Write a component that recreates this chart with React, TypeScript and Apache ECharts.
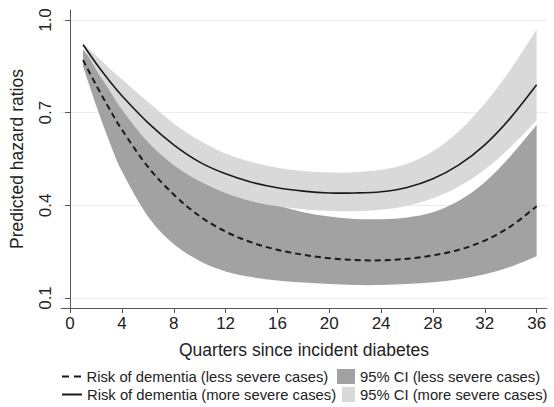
import React, { useEffect, useRef } from "react";
import * as echarts from "echarts";

// Quarters since incident diabetes (x positions of estimates)
const quarters = [1, 2, 3, 4, 6, 8, 10, 12, 14, 16, 18, 20, 22, 24, 26, 28, 30, 32, 34, 36];

// More severe cases: estimate and 95% CI
const moreSevere = [0.92, 0.86, 0.805, 0.755, 0.668, 0.596, 0.54, 0.502, 0.475, 0.457, 0.446, 0.44, 0.44, 0.444, 0.458, 0.486, 0.531, 0.596, 0.684, 0.79];
const moreSevereUpper = [0.925, 0.885, 0.845, 0.808, 0.735, 0.665, 0.61, 0.568, 0.54, 0.522, 0.511, 0.506, 0.507, 0.515, 0.535, 0.575, 0.64, 0.73, 0.84, 0.97];
const moreSevereLower = [0.915, 0.84, 0.775, 0.71, 0.605, 0.53, 0.478, 0.44, 0.413, 0.397, 0.387, 0.382, 0.381, 0.386, 0.399, 0.423, 0.461, 0.516, 0.589, 0.675];

// Less severe cases: estimate and 95% CI
const lessSevere = [0.87, 0.79, 0.715, 0.645, 0.525, 0.435, 0.365, 0.315, 0.28, 0.256, 0.24, 0.229, 0.223, 0.222, 0.227, 0.238, 0.256, 0.286, 0.332, 0.397];
const lessSevereUpper = [0.905, 0.85, 0.79, 0.735, 0.645, 0.58, 0.52, 0.47, 0.43, 0.40, 0.378, 0.364, 0.356, 0.355, 0.361, 0.378, 0.415, 0.475, 0.56, 0.66];
const lessSevereLower = [0.85, 0.725, 0.61, 0.51, 0.365, 0.275, 0.22, 0.186, 0.168, 0.157, 0.15, 0.145, 0.142, 0.142, 0.145, 0.151, 0.161, 0.177, 0.201, 0.235];

// Axis ticks
const xTicks = [0, 4, 8, 12, 16, 20, 24, 28, 32, 36];
const yTicks = [0.1, 0.4, 0.7, 1.0];

const NAME_LESS = "Risk of dementia (less severe cases)";
const NAME_MORE = "Risk of dementia (more severe cases)";
const NAME_CI_LESS = "95% CI (less severe cases)";
const NAME_CI_MORE = "95% CI (more severe cases)";

const DARK = "#a2a2a2";
const LIGHT = "#d9d9d9";
const INK = "#1a1a1a";
const FONT = "Liberation Sans, Arial, sans-serif";

type Pt = number[];
function curve(pts: Pt[]): string {
  let d = "";
  for (let i = 0; i < pts.length - 1; i++) {
    const p0 = pts[i - 1] || pts[i];
    const p1 = pts[i];
    const p2 = pts[i + 1];
    const p3 = pts[i + 2] || p2;
    const c1x = p1[0] + (p2[0] - p0[0]) / 6;
    const c1y = p1[1] + (p2[1] - p0[1]) / 6;
    const c2x = p2[0] - (p3[0] - p1[0]) / 6;
    const c2y = p2[1] - (p3[1] - p1[1]) / 6;
    d += ` C${c1x},${c1y} ${c2x},${c2y} ${p2[0]},${p2[1]}`;
  }
  return d;
}

function bandSeries(name: string, lo: number[], hi: number[], color: string) {
  return {
    name,
    type: "custom",
    silent: true,
    itemStyle: { color },
    encode: { x: 0, y: [1, 2] },
    data: quarters.map((q, i) => [q, lo[i], hi[i]]),
    renderItem: (params: any, api: any) => {
      if (params.dataIndex !== 0) return null;
      const up = quarters.map((q, i) => api.coord([q, hi[i]]));
      const dn = quarters.map((q, i) => api.coord([q, lo[i]])).reverse();
      const d =
        `M${up[0][0]},${up[0][1]}` + curve(up) + ` L${dn[0][0]},${dn[0][1]}` + curve(dn) + " Z";
      return { type: "path", shape: { pathData: d }, style: { fill: color, stroke: "none" } };
    },
  };
}

function curveSeries(name: string, ys: number[], lineDash: number[] | null, width: number) {
  return {
    name,
    type: "custom",
    silent: true,
    itemStyle: { color: INK },
    encode: { x: 0, y: 1 },
    data: quarters.map((q, i) => [q, ys[i]]),
    renderItem: (params: any, api: any) => {
      if (params.dataIndex !== 0) return null;
      const pts = quarters.map((q, i) => api.coord([q, ys[i]]));
      const d = `M${pts[0][0]},${pts[0][1]}` + curve(pts);
      const style: any = { fill: "none", stroke: INK, lineWidth: width };
      if (lineDash) style.lineDash = lineDash;
      return { type: "path", shape: { pathData: d }, style };
    },
  };
}

export default function App() {
  const ref = useRef<HTMLDivElement>(null);
  useEffect(() => {
    if (!ref.current) return;
    const chart = echarts.init(ref.current, undefined, { renderer: "svg" });
    const legendText = { fontSize: 14.8, color: "#222", fontFamily: FONT };
    chart.setOption({
      animation: false,
      textStyle: { fontFamily: FONT },
      grid: { left: 60, right: 7, top: 10, bottom: 99, containLabel: false },
      xAxis: {
        type: "value",
        min: -0.7,
        max: 36.8,
        name: "Quarters since incident diabetes",
        nameLocation: "middle",
        nameGap: 33,
        nameTextStyle: { fontSize: 17.5, color: "#222", fontFamily: FONT },
        axisLine: { show: true, lineStyle: { color: "#555", width: 1 } },
        axisTick: { show: true, length: 5, lineStyle: { color: "#555" }, customValues: xTicks },
        axisLabel: { fontSize: 17, color: "#222", margin: 7, customValues: xTicks, fontFamily: FONT },
        splitLine: { show: false },
      },
      yAxis: {
        type: "value",
        min: 0.0676,
        max: 1.0324,
        name: "Predicted hazard ratios",
        nameLocation: "middle",
        nameGap: 35,
        nameTextStyle: { fontSize: 17.5, color: "#222", fontFamily: FONT },
        axisLine: { show: true, lineStyle: { color: "#555", width: 1 } },
        axisTick: { show: true, length: 5, lineStyle: { color: "#555" }, customValues: yTicks },
        axisLabel: {
          fontSize: 17,
          color: "#222",
          rotate: 90,
          margin: 7,
          customValues: yTicks,
          fontFamily: FONT,
          formatter: (v: number) => v.toFixed(1),
        },
        splitLine: { show: true, lineStyle: { color: "#ececec", width: 1 } },
      },
      legend: [
        {
          data: [NAME_LESS], left: 62, top: 369, icon: "path://M0,0h7v2h-7zM12,0h7v2h-7z",
          itemWidth: 20, itemHeight: 2, textStyle: legendText, padding: 0, itemStyle: { borderWidth: 0 },
        },
        {
          data: [NAME_CI_LESS], left: 337, top: 369, icon: "rect",
          itemWidth: 18, itemHeight: 15, textStyle: legendText, padding: 0, itemStyle: { borderWidth: 0 },
        },
        {
          data: [NAME_MORE], left: 62, top: 387, icon: "rect",
          itemWidth: 20, itemHeight: 2, textStyle: legendText, padding: 0, itemStyle: { borderWidth: 0 },
        },
        {
          data: [NAME_CI_MORE], left: 342, top: 387, icon: "rect",
          itemWidth: 13, itemHeight: 15, textStyle: legendText, padding: 0, itemStyle: { borderWidth: 0 },
        },
      ],
      series: [
        bandSeries(NAME_CI_LESS, lessSevereLower, lessSevereUpper, DARK),
        bandSeries(NAME_CI_MORE, moreSevereLower, moreSevereUpper, LIGHT),
        curveSeries(NAME_LESS, lessSevere, [6, 4], 2),
        curveSeries(NAME_MORE, moreSevere, null, 1.6),
      ],
    });
    return () => chart.dispose();
  }, []);
  return <div ref={ref} style={{ width: 554, height: 407, position: "absolute", left: 0, top: 0 }} />;
}
